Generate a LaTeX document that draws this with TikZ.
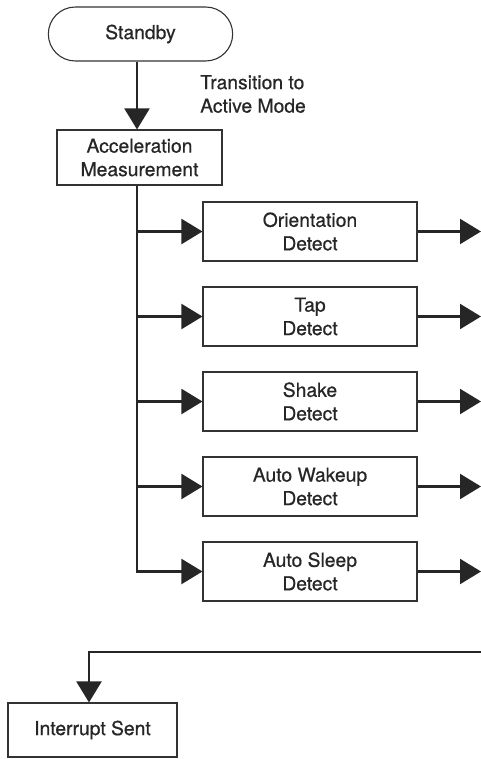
\documentclass[tikz,border=0pt]{standalone}
\usepackage{fontspec}
\setmainfont{TeX Gyre Heros}
\newfontfamily\medfont[FakeBold=0.6]{TeX Gyre Heros}
\usetikzlibrary{arrows.meta,shapes.misc}

\begin{document}
\begin{tikzpicture}[x=1pt,y=-1pt]
 \tikzset{
  blk/.style={rectangle, draw=black!80, line width=1.1pt, align=center, inner sep=0pt},
  term/.style={rounded rectangle, draw=black!80, line width=1.1pt, minimum width=191pt, minimum height=54pt},
  con/.style={line width=2.2pt, draw=black!85, -{Triangle[length=21pt,width=25pt]}},
  every node/.append style={font=\medfont\fontsize{19.3}{23.5}\selectfont, text=black!85}
 }
 \def\trunk{137}
 \def\gap{85}
 \useasboundingbox (0,0) rectangle (481,759);

 \coordinate (tk) at (\trunk,0);
 \coordinate (rgt) at (481,0);

 \node [term] (stby) at (140.5,34) {Standby};
 \node [blk, minimum width=165pt, minimum height=55pt] (acc) at (139.5,157.5) {Acceleration\\Measurement};
 \node [align=left, anchor=west, inner sep=0pt] (trans) at (200,94) {Transition to\\Active Mode};

 \foreach \txt [count=\i] in {{Orientation\\Detect},{Tap\\Detect},{Shake\\Detect},{Auto Wakeup\\Detect},{Auto Sleep\\Detect}}
  { \node [blk, minimum width=214pt, minimum height=59pt] (d\i) at (310,{146.5+\gap*\i}) {\txt}; }

 \node [blk, minimum width=169pt, minimum height=54pt] (intr) at (92.5,730) {Interrupt Sent};
 \coordinate (ret) at (481,652);

 \draw [con] (stby.south -| tk) -- (acc.north -| tk);
 \draw [con] (acc.south -| tk) |- (d5.west);
 \foreach \i in {1,...,4} { \draw [con] (d\i.west -| tk) -- (d\i.west); }
 \foreach \i in {1,...,5} { \draw [con] (d\i.east) -- (d\i.east -| rgt); }

 \draw [con] (ret) -| ([xshift=-3.5pt]intr.north);
\end{tikzpicture}
\end{document}
